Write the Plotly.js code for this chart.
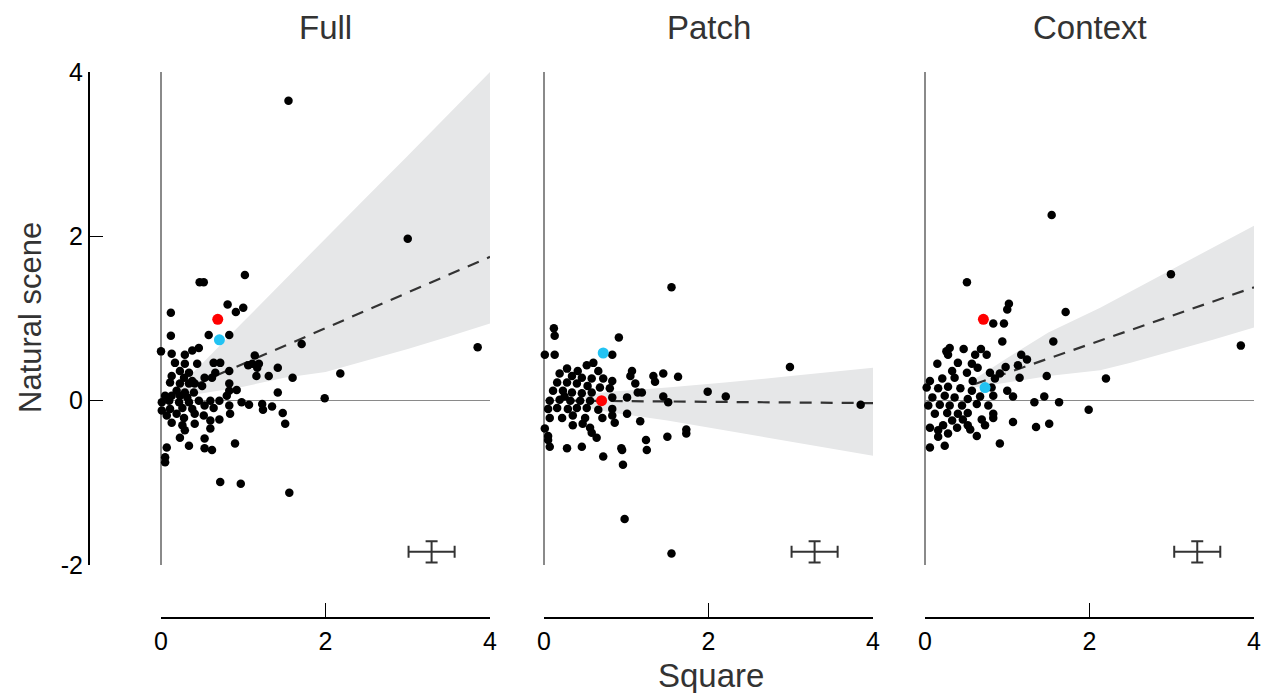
<!DOCTYPE html>
<html>
<head>
<meta charset="utf-8">
<script src="https://cdn.plot.ly/plotly-3.0.1.min.js"></script>
<style>html,body{margin:0;padding:0;background:#fff;}#chart{width:1265px;height:693px;}</style>
</head>
<body>
<div id="chart"></div>
<script>
// ---------------- data ----------------
const panelTitles = ["Full", "Patch", "Context"];
const xTickVals = [0, 2, 4];
const xTickText = ["0", "2", "4"];
const yTickVals = [-2, 0, 2, 4];
const yTickText = ["-2", "0", "2", "4"];

const fullX = [0.12,0.58,0.83,0.46,0.00,0.13,0.29,0.38,1.14,0.17,0.29,0.44,0.64,0.72,1.11,1.19,0.23,0.34,0.66,0.83,0.13,0.28,0.38,0.53,0.62,0.11,0.23,0.34,0.41,0.50,0.83,0.19,0.29,0.40,0.83,0.92,0.05,0.13,0.23,0.32,0.80,0.01,0.10,0.22,0.34,0.46,0.60,0.71,0.98,1.07,0.01,0.11,0.26,0.38,0.53,0.64,0.83,0.07,0.19,0.28,0.41,0.52,0.84,0.13,0.26,0.41,0.60,0.71,0.29,0.60,0.23,0.53,0.90,0.07,0.34,0.53,0.62,0.05,1.02,0.47,0.52,0.81,1.00,0.91,0.12,1.71,1.06,1.17,1.42,2.18,1.16,1.31,1.60,1.42,1.99,1.23,1.35,1.24,1.48,1.51,0.72,0.97,1.56,1.55,3.00,3.85,0.05];
const fullY = [0.79,0.80,0.80,0.64,0.60,0.57,0.56,0.61,0.55,0.46,0.45,0.45,0.46,0.46,0.45,0.45,0.36,0.34,0.34,0.36,0.30,0.28,0.24,0.28,0.28,0.22,0.21,0.21,0.21,0.18,0.21,0.12,0.10,0.10,0.12,0.13,0.06,0.06,0.06,0.04,0.06,-0.02,0.00,-0.02,-0.02,0.00,0.00,0.00,-0.02,-0.05,-0.12,-0.10,-0.09,-0.10,-0.06,-0.09,-0.06,-0.18,-0.16,-0.21,-0.16,-0.18,-0.16,-0.27,-0.30,-0.28,-0.24,-0.23,-0.36,-0.34,-0.45,-0.46,-0.52,-0.57,-0.55,-0.58,-0.60,-0.69,1.53,1.44,1.44,1.17,1.13,1.08,1.07,0.69,0.43,0.40,0.40,0.33,0.30,0.30,0.28,0.10,0.03,-0.04,-0.07,-0.11,-0.15,-0.28,-0.99,-1.01,-1.12,3.65,1.97,0.65,-0.75];

const patchX = [0.12,0.13,0.91,0.01,0.13,0.83,0.60,0.52,0.66,0.28,0.41,1.07,1.05,0.19,0.34,0.46,0.58,0.72,0.83,0.16,0.28,0.40,0.53,0.68,0.80,1.11,1.19,0.11,0.23,0.34,0.46,0.58,0.07,0.19,0.32,0.44,0.56,0.83,1.01,0.05,0.16,0.29,0.40,0.52,0.66,0.83,1.01,0.07,0.22,0.35,0.50,0.71,0.83,0.35,0.47,0.56,0.86,0.01,0.05,0.58,0.64,0.07,0.28,0.46,0.72,0.94,1.33,1.45,1.63,1.35,1.14,1.45,1.99,1.51,1.17,1.24,1.25,1.50,1.73,1.73,0.95,0.96,0.98,1.55,2.99,3.85,1.55,2.21,0.05,0.25];
const patchY = [0.88,0.79,0.77,0.56,0.56,0.56,0.46,0.43,0.36,0.39,0.36,0.36,0.30,0.33,0.30,0.28,0.27,0.27,0.24,0.22,0.22,0.21,0.18,0.16,0.15,0.21,0.10,0.12,0.12,0.10,0.09,0.10,0.00,0.01,0.00,0.00,0.00,0.04,0.04,-0.10,-0.09,-0.10,-0.09,-0.09,-0.11,-0.10,-0.16,-0.21,-0.21,-0.18,-0.21,-0.21,-0.18,-0.30,-0.28,-0.33,-0.27,-0.34,-0.43,-0.39,-0.45,-0.56,-0.58,-0.56,-0.68,-0.58,0.30,0.33,0.29,0.23,0.10,0.05,0.11,-0.02,-0.25,-0.48,-0.60,-0.44,-0.40,-0.35,-0.60,-0.78,-1.44,1.38,0.41,-0.05,-1.86,0.05,-0.48,0.05];

const contextX = [0.51,1.02,1.00,0.83,0.96,1.71,0.94,1.56,0.30,0.47,0.68,1.17,1.24,1.13,0.98,0.91,1.15,1.48,1.00,1.07,1.45,1.33,1.63,1.99,1.07,1.35,1.51,0.91,0.06,0.24,1.54,2.99,3.84,2.20,0.26,0.28,0.61,0.75,0.15,0.40,0.57,0.64,0.33,0.51,0.79,0.06,0.21,0.36,0.58,0.85,0.02,0.16,0.28,0.43,0.57,0.81,0.09,0.24,0.36,0.52,0.67,0.83,0.04,0.18,0.30,0.45,0.63,0.77,0.12,0.27,0.40,0.52,0.83,0.33,0.46,0.69,0.22,0.39,0.52,0.83,0.06,0.16,0.28,0.55,0.63,0.73,0.16];
const contextY = [1.44,1.18,1.11,0.94,0.94,1.08,0.72,0.72,0.64,0.63,0.63,0.56,0.50,0.43,0.41,0.33,0.28,0.30,0.12,0.05,0.05,-0.02,-0.02,-0.11,-0.26,-0.32,-0.28,-0.52,-0.57,-0.55,2.26,1.54,0.67,0.27,0.60,0.56,0.56,0.56,0.45,0.46,0.45,0.40,0.36,0.34,0.34,0.24,0.27,0.28,0.24,0.27,0.16,0.15,0.17,0.15,0.12,0.16,0.04,0.06,0.04,0.02,0.05,0.06,-0.06,-0.05,-0.06,-0.06,-0.04,-0.06,-0.16,-0.15,-0.16,-0.15,-0.16,-0.24,-0.23,-0.23,-0.30,-0.33,-0.30,-0.21,-0.33,-0.36,-0.40,-0.35,-0.43,-0.30,-0.44];

// highlighted units (red, cyan) per panel
const redX = [0.69, 0.70, 0.71];
const redY = [0.99, 0.00, 0.99];
const cyanX = [0.71, 0.72, 0.73];
const cyanY = [0.74, 0.58, 0.16];

// regression fits (dashed) and confidence bands
const fitX = [[0.45, 4], [0.3, 4], [0.6, 4]];
const fitY = [[0.21, 1.75], [0.00, -0.03], [0.20, 1.38]];
const bandX = [
  [0.2, 0.45, 1.0, 1.5, 2.0, 2.5, 3.0, 3.5, 4.0],
  [0.5, 0.8, 1.5, 2.2, 3.0, 4.0],
  [0.6, 1.0, 1.5, 2.13, 2.5, 3.0, 3.5, 4.0]
];
const bandHi = [
  [0.16, 0.40, 0.96, 1.47, 1.97, 2.48, 2.98, 3.49, 4.0],
  [0.07, 0.11, 0.16, 0.22, 0.30, 0.40],
  [0.26, 0.52, 0.83, 1.13, 1.33, 1.60, 1.87, 2.13]
];
const bandLo = [
  [0.02, 0.08, 0.17, 0.28, 0.35, 0.49, 0.63, 0.78, 0.94],
  [-0.08, -0.14, -0.24, -0.36, -0.50, -0.67],
  [0.16, 0.22, 0.30, 0.37, 0.46, 0.60, 0.74, 0.89]
];

// typical error (cross) per panel
const errX = [3.29, 3.29, 3.31];
const errY = [-1.84, -1.84, -1.84];
const errXHalf = 0.28;
const errYHalf = 0.13;

const pointsX = [fullX, patchX, contextX];
const pointsY = [fullY, patchY, contextY];

// ---------------- build ----------------
const W = 1265, H = 693;
const xDomains = [[161/W, 490/W], [544/W, 873/W], [925/W, 1254/W]];
const yDomain = [(H-565)/H, (H-72)/H];
const FONT = "Liberation Sans, Arial, Helvetica, sans-serif";

const traces = [];
const layout = {
  width: W, height: H,
  margin: {l: 0, r: 0, t: 0, b: 0},
  paper_bgcolor: "#fff", plot_bgcolor: "rgba(0,0,0,0)",
  showlegend: false,
  font: {family: FONT, color: "#000", size: 25},
  annotations: []
};

for (let p = 0; p < 3; p++) {
  const sx = p === 0 ? "" : String(p + 1);
  const xa = "x" + sx, ya = "y" + sx;
  const bx = bandX[p];
  traces.push({
    type: "scatter", mode: "lines", xaxis: xa, yaxis: ya,
    x: bx.concat(bx.slice().reverse()),
    y: bandHi[p].concat(bandLo[p].slice().reverse()),
    fill: "toself", fillcolor: "#e6e7e8", line: {width: 0, color: "rgba(0,0,0,0)"},
    hoverinfo: "skip"
  });
  traces.push({
    type: "scatter", mode: "lines", xaxis: xa, yaxis: ya,
    x: fitX[p], y: fitY[p],
    line: {color: "#333", width: 2.2, dash: "12px,9px"}, hoverinfo: "skip"
  });
  traces.push({
    type: "scatter", mode: "markers", xaxis: xa, yaxis: ya,
    x: pointsX[p], y: pointsY[p], cliponaxis: false,
    marker: {color: "#000", size: 8.5, line: {width: 0}}
  });
  traces.push({
    type: "scatter", mode: "markers", xaxis: xa, yaxis: ya,
    x: [redX[p]], y: [redY[p]], cliponaxis: false,
    marker: {color: "#ff0000", size: 11, line: {width: 0}}
  });
  traces.push({
    type: "scatter", mode: "markers", xaxis: xa, yaxis: ya,
    x: [cyanX[p]], y: [cyanY[p]], cliponaxis: false,
    marker: {color: "#22c3f3", size: 11, line: {width: 0}}
  });
  traces.push({
    type: "scatter", mode: "markers", xaxis: xa, yaxis: ya,
    x: [errX[p]], y: [errY[p]], cliponaxis: false,
    marker: {color: "#333", size: 1, opacity: 0},
    error_x: {type: "constant", value: errXHalf, color: "#333", thickness: 2, width: 6},
    error_y: {type: "constant", value: errYHalf, color: "#333", thickness: 2, width: 6}
  });

  layout["xaxis" + sx] = {
    domain: xDomains[p], range: [0, 4], anchor: "free", position: (H-617)/H,
    showline: true, linecolor: "#000", linewidth: 1.5,
    ticks: "inside", ticklen: 14, tickwidth: 1.5, tickcolor: "#000",
    tickvals: xTickVals, ticktext: xTickText, tickfont: {size: 25, color: "#000", family: FONT},
    ticklabelstandoff: 1,
    showgrid: false, zeroline: true, zerolinecolor: "#8a8a8a", zerolinewidth: 1.5,
    fixedrange: true
  };
  const yax = {
    domain: yDomain, range: [-2, 4],
    showgrid: false, zeroline: true, zerolinecolor: "#8a8a8a", zerolinewidth: 1.5,
    fixedrange: true
  };
  if (p === 0) {
    Object.assign(yax, {
      anchor: "free", position: 88/W,
      showline: true, linecolor: "#000", linewidth: 1.5,
      ticks: "inside", ticklen: 13, tickwidth: 1.5, tickcolor: "#000",
      tickvals: yTickVals, ticktext: yTickText, tickfont: {size: 25, color: "#000", family: FONT}
    });
  } else {
    Object.assign(yax, {anchor: xa, showline: false, showticklabels: false, ticks: ""});
  }
  layout["yaxis" + sx] = yax;

  layout.annotations.push({
    xref: "paper", yref: "paper",
    x: (xDomains[p][0] + xDomains[p][1]) / 2, y: (H-27)/H,
    xanchor: "center", yanchor: "middle", showarrow: false,
    text: panelTitles[p], font: {size: 33, color: "#333", family: FONT}
  });
}

layout.annotations.push({
  xref: "paper", yref: "paper", x: 30/W, y: (H-318)/H,
  xanchor: "center", yanchor: "middle", showarrow: false, textangle: -90,
  text: "Natural scene", font: {size: 31, color: "#333", family: FONT}
});
layout.annotations.push({
  xref: "paper", yref: "paper", x: 711/W, y: (H-675)/H,
  xanchor: "center", yanchor: "middle", showarrow: false,
  text: "Square", font: {size: 33, color: "#333", family: FONT}
});

Plotly.newPlot("chart", traces, layout, {displayModeBar: false, staticPlot: true});
</script>
</body>
</html>
